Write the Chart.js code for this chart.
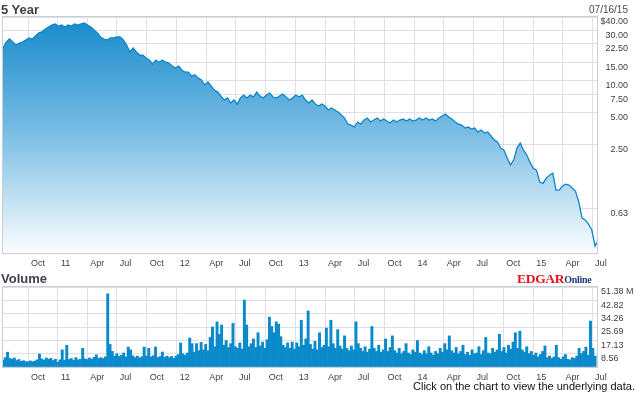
<!DOCTYPE html>
<html>
<head>
<meta charset="utf-8">
<script src="https://cdn.jsdelivr.net/npm/chart.js@4/dist/chart.umd.min.js"></script>
<style>
  body { margin: 0; background: #fff; width: 635px; height: 395px; overflow: hidden; position: relative; }
  canvas { position: absolute; left: 0; }
  #priceChart { top: 0; }
  #volumeChart { top: 270px; }
  .txt { position: absolute; white-space: nowrap; z-index: 2; font-family: 'Liberation Sans', Arial, sans-serif; }
  #title { left: 1px; top: 3px; font-size: 13px; line-height: 13px; font-weight: bold; color: #3e4146; }
  #date { right: 7px; top: 5px; font-size: 10px; line-height: 10px; color: #4a4a4a; }
  #volTitle { left: 1px; top: 272px; font-size: 13px; line-height: 13px; font-weight: bold; color: #3e4146; }
  #edgar { left: 517px; top: 269px; font-family: 'Liberation Serif', 'Times New Roman', serif; font-weight: bold; letter-spacing: -0.3px; }
  #edgar .e { color: #e3121b; font-size: 13.5px; }
  #edgar .o { color: #1d3b7c; font-size: 10px; }
  #note { left: 413px; top: 381px; font-size: 11px; line-height: 11px; color: #111; }
</style>
</head>
<body>
<canvas id="priceChart" width="635" height="270"></canvas>
<canvas id="volumeChart" width="635" height="125"></canvas>
<div class="txt" id="title">5 Year</div>
<div class="txt" id="date">07/16/15</div>
<div class="txt" id="volTitle">Volume</div>
<div class="txt" id="edgar"><span class="e">EDGAR</span><span class="o">Online</span></div>
<div class="txt" id="note">Click on the chart to view the underlying data.</div>
<script>
// serie de 5 años, desde 07/16/10 hasta 07/16/15
const fechaInicio = '2010-07-16';
const fechaFin = '2015-07-16';

const tickFechas = ['2010-10-01', '2011-01-01', '2011-04-01', '2011-07-01', '2011-10-01', '2012-01-01',
  '2012-04-01', '2012-07-01', '2012-10-01', '2013-01-01', '2013-04-01', '2013-07-01', '2013-10-01',
  '2014-01-01', '2014-04-01', '2014-07-01', '2014-10-01', '2015-01-01', '2015-04-01', '2015-07-01'];
const tickEtiquetas = ['Oct', '11', 'Apr', 'Jul', 'Oct', '12', 'Apr', 'Jul', 'Oct', '13',
  'Apr', 'Jul', 'Oct', '14', 'Apr', 'Jul', 'Oct', '15', 'Apr', 'Jul'];

// precio de cierre cada 10 días (el último es el 07/16/15)
const precioPaso = 10;
const precios = [
  20.4, 23.2, 24.8, 23.2, 21.8, 22.7, 23.2, 24.3, 25.4, 24.8,
  26.5, 28.3, 28.9, 30.8, 32.2, 33.6, 34.4, 32.9, 33.6, 32.2,
  33.6, 32.9, 34.4, 33.6, 34.4, 35.1, 33.6, 32.2, 30.2, 28.3,
  25.9, 24.8, 24.3, 25.4, 25.4, 25.9, 25.9, 24.3, 21.8, 18.7,
  20.4, 18.7, 17.5, 17.5, 16.4, 15.7, 14.4, 15.7, 15.0, 15.7,
  15.0, 14.7, 13.8, 13.2, 13.8, 12.6, 12.1, 12.1, 11.1, 11.4,
  10.6, 10.2, 9.13, 9.75, 8.93, 8.19, 7.84, 7.19, 6.59, 6.89,
  6.18, 6.59, 6.05, 6.89, 7.35, 6.89, 7.35, 7.04, 7.84, 7.19,
  6.89, 7.35, 7.67, 7.04, 6.89, 7.19, 7.51, 7.04, 6.59, 6.89,
  7.35, 7.04, 7.35, 6.59, 6.18, 6.59, 6.05, 5.79, 6.05, 5.79,
  5.31, 5.55, 5.31, 5.08, 4.76, 4.46, 3.91, 3.83, 3.67, 4.09,
  3.91, 4.27, 4.46, 4.09, 4.27, 4.46, 4.18, 4.36, 4.18, 4.00,
  4.27, 4.09, 4.27, 4.36, 4.18, 4.36, 4.18, 4.27, 4.46, 4.27,
  4.46, 4.27, 4.36, 4.18, 4.46, 4.66, 4.87, 4.56, 4.36, 4.09,
  3.91, 3.83, 3.59, 3.67, 3.51, 3.59, 3.29, 3.44, 3.22, 3.29,
  3.02, 2.77, 2.65, 2.32, 2.22, 1.87, 1.61, 1.79, 2.32, 2.59,
  2.22, 2.00, 1.71, 1.50, 1.44, 1.11, 1.08, 1.21, 1.29, 1.35,
  0.933, 0.933, 1.02, 1.06, 1.04, 0.975, 0.91, 0.72, 0.51, 0.486,
  0.445, 0.392, 0.277, 0.30
];
const precioTicks = [40, 30, 22.5, 15, 10, 7.5, 5, 2.5, 0.625];
const precioEtiquetas = ['$40.00', '30.00', '22.50', '15.00', '10.00', '7.50', '5.00', '2.50', '0.63'];

// volumen semanal en millones
const volumenPaso = 7;
const volumenes = [
  4.5, 6.0, 9.5, 5.5, 5.0, 5.8, 4.2, 4.8, 3.6, 4.0,
  3.5, 3.3, 3.9, 3.4, 3.8, 4.6, 8.3, 5.2, 4.4, 5.8,
  4.9, 5.6, 4.2, 5.0, 3.0, 4.6, 11.0, 4.4, 14.0, 4.8,
  5.5, 4.3, 6.0, 4.6, 5.0, 12.0, 5.2, 4.8, 5.8, 5.0,
  6.2, 7.8, 5.5, 6.0, 5.4, 6.5, 47.0, 14.5, 10.0, 7.0,
  8.5, 6.8, 7.5, 9.0, 6.5, 12.8, 11.0, 7.2, 6.0, 7.0,
  5.8, 6.6, 12.8, 7.0, 12.0, 6.5, 7.2, 12.8, 6.0, 6.8,
  9.6, 6.2, 7.0, 6.0, 6.8, 5.5, 7.0, 8.0, 15.4, 8.5,
  7.5, 9.0, 18.6, 15.0, 9.5, 15.0, 10.5, 15.8, 11.0, 14.5,
  10.5, 19.0, 25.7, 13.0, 29.0, 21.0, 27.0, 14.0, 17.0, 12.5,
  15.0, 28.0, 13.0, 12.0, 15.5, 11.5, 43.0, 27.0, 13.0, 15.0,
  18.0, 12.5, 22.0, 13.5, 16.0, 12.0, 17.5, 32.0, 26.0, 22.0,
  29.0, 27.5, 19.5, 14.0, 12.5, 15.5, 12.0, 16.0, 11.5, 15.5,
  13.0, 30.0, 14.0, 18.0, 36.0, 14.5, 11.5, 16.5, 11.0, 22.0,
  12.5, 14.0, 25.0, 13.0, 30.0, 15.0, 12.0, 24.0, 13.5, 11.5,
  20.0, 12.0, 10.5, 13.5, 11.0, 29.0, 15.0, 12.0, 10.0, 13.0,
  9.5, 11.5, 26.0, 12.0, 10.0, 14.0, 9.5, 11.0, 18.0, 10.0,
  12.5, 20.0, 10.5, 9.0, 12.0, 8.5, 10.0, 15.0, 9.0, 8.0,
  11.0, 9.5, 17.0, 9.0, 8.0, 10.5, 8.5, 13.0, 9.0, 7.5,
  10.0, 8.5, 12.0, 9.5, 15.0, 11.0, 20.0, 10.5, 9.0, 12.5,
  8.5, 10.0, 14.0, 8.0, 9.5, 7.5, 11.0, 8.5, 9.0, 13.0,
  8.0, 10.5, 19.0, 9.0, 8.5, 12.0, 9.5, 11.0, 21.0, 10.0,
  12.5, 9.0, 14.0, 11.5, 16.0, 22.0, 12.0, 23.0, 11.0, 9.5,
  13.0, 8.5, 10.0, 7.5, 9.0, 6.5, 8.0, 10.0, 13.5, 6.0,
  7.0, 5.5, 6.5, 14.0, 6.0, 5.0, 6.5, 8.0, 5.0, 4.5,
  6.0, 5.5, 7.0, 12.0, 8.5, 10.0, 12.8, 7.5, 29.5, 12.0,
  7.0
];
const volumenTicks = [0, 8.56, 17.13, 25.69, 34.26, 42.82, 51.38];
const volumenEtiquetas = ['', '8.56', '17.13', '25.69', '34.26', '42.82', '51.38 M'];

const inicio = Date.parse(fechaInicio);
const dia = s => Math.round((Date.parse(s) - inicio) / 86400000);
const diaFin = dia(fechaFin);
const tickDias = tickFechas.map(dia);

const colorGrid = '#dde1e7';
const colorTexto = '#3c3f44';
const fuente = { family: "'Liberation Sans', Arial, sans-serif", size: 9 };

const datosPrecio = precios.map((p, i) => ({ x: i === precios.length - 1 ? diaFin : i * precioPaso, y: p }));
const datosVolumen = volumenes.map((v, i) => ({ x: i * volumenPaso, y: v }));

const marco = {
  id: 'marco',
  afterDraw(chart) {
    const { ctx, chartArea: a } = chart;
    ctx.save();
    ctx.strokeStyle = '#c9ced6';
    ctx.lineWidth = 1;
    ctx.strokeRect(Math.round(a.left) - 0.5, Math.round(a.top) - 0.5, Math.round(a.width) + 1, Math.round(a.height) + 1);
    ctx.restore();
  }
};

function ejeX(alto) {
  return {
    type: 'linear',
    min: 0,
    max: diaFin,
    offset: false,
    afterBuildTicks: s => { s.ticks = tickDias.map(v => ({ value: v })); },
    afterFit: s => { s.height = alto; },
    grid: { color: colorGrid, drawTicks: false, offset: false },
    border: { display: false },
    ticks: {
      autoSkip: false, maxRotation: 0, align: 'start', labelOffset: 3, padding: 5,
      color: colorTexto, font: fuente,
      callback: (v, i) => tickEtiquetas[i]
    }
  };
}

Chart.defaults.animation = false;

new Chart(document.getElementById('priceChart'), {
  type: 'line',
  data: {
    datasets: [{
      data: datosPrecio,
      borderColor: '#0c86c8',
      borderWidth: 1.3,
      pointRadius: 0,
      tension: 0,
      fill: 'start',
      backgroundColor(c) {
        const a = c.chart.chartArea;
        if (!a) return 'rgba(0,0,0,0)';
        const g = c.chart.ctx.createLinearGradient(0, a.top, 0, a.bottom);
        g.addColorStop(0, '#168acb');
        g.addColorStop(0.5, '#7cbee4');
        g.addColorStop(1, '#fbfdff');
        return g;
      }
    }]
  },
  options: {
    responsive: false,
    devicePixelRatio: 1,
    layout: { padding: { top: 17, left: 3, right: 7, bottom: 0 } },
    plugins: { legend: { display: false }, tooltip: { enabled: false } },
    scales: {
      x: ejeX(17),
      y: {
        type: 'logarithmic',
        position: 'right',
        min: 0.238,
        max: 40,
        afterBuildTicks: s => { s.ticks = precioTicks.map(v => ({ value: v })); },
        afterFit: s => { s.width = 31; },
        grid: { color: colorGrid, drawTicks: false },
        border: { display: false },
        ticks: {
          autoSkip: false, crossAlign: 'far', padding: 0, labelOffset: 5,
          color: colorTexto, font: fuente,
          callback: (v, i) => precioEtiquetas[i]
        }
      }
    }
  },
  plugins: [marco]
});

new Chart(document.getElementById('volumeChart'), {
  type: 'bar',
  data: {
    datasets: [{
      data: datosVolumen,
      backgroundColor: '#0a8acb',
      borderWidth: 0,
      barPercentage: 1,
      categoryPercentage: 1
    }]
  },
  options: {
    responsive: false,
    devicePixelRatio: 1,
    layout: { padding: { top: 17, left: 3, right: 0, bottom: 0 } },
    plugins: { legend: { display: false }, tooltip: { enabled: false } },
    scales: {
      x: ejeX(28),
      y: {
        position: 'right',
        min: 0,
        max: 51.38,
        afterBuildTicks: s => { s.ticks = volumenTicks.map(v => ({ value: v })); },
        afterFit: s => { s.width = 38; },
        grid: { color: colorGrid, drawTicks: false },
        border: { display: false },
        ticks: {
          autoSkip: false, crossAlign: 'near', padding: 4, labelOffset: 5,
          color: colorTexto, font: fuente,
          callback: (v, i) => volumenEtiquetas[i]
        }
      }
    }
  },
  plugins: [marco]
});
</script>
</body>
</html>
